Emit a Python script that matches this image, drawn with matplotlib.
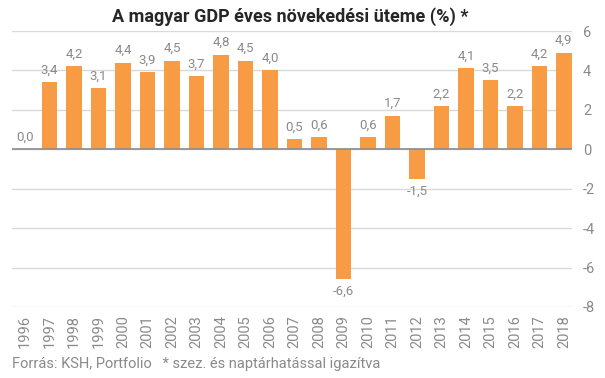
import matplotlib
matplotlib.use("Agg")
import matplotlib.pyplot as plt
import numpy as np

years = [str(y) for y in range(1996, 2019)]
growth = [0.0, 3.4, 4.2, 3.1, 4.4, 3.9, 4.5, 3.7, 4.8, 4.5, 4.0, 0.5, 0.6,
          -6.6, 0.6, 1.7, -1.5, 2.2, 4.1, 3.5, 2.2, 4.2, 4.9]
yticks = [-8, -6, -4, -2, 0, 2, 4, 6]

plt.rcParams['font.family'] = ['Roboto', 'DejaVu Sans']
ORANGE = '#F79C45'
GRAY = '#8A8A8A'

fig = plt.figure(figsize=(6.05, 3.78), dpi=100)
ax = fig.add_axes([12/605, 71/378, 560/605, 276/378])

x = np.arange(len(years))
ax.bar(x, growth, width=0.63, color=ORANGE, zorder=3)
ax.set_xlim(-0.53, len(years) - 1 + 0.33)
ax.set_ylim(-8, 6)
ax.set_yticks(yticks)
ax.set_yticklabels([str(t) for t in yticks])
ax.yaxis.tick_right()
ax.tick_params(axis='y', length=0, pad=8, labelsize=10.5, labelcolor=GRAY)
ax.set_xticks(x)
ax.set_xticklabels(years, rotation=90)
ax.tick_params(axis='x', length=0, pad=6, labelsize=10.5, labelcolor=GRAY)
for s in ax.spines.values():
    s.set_visible(False)
ax.grid(axis='y', color='#D9D9D9', linewidth=1, zorder=0)
ax.axhline(0, color='#8C8C8C', linewidth=1.2, zorder=4)

for xi, v in zip(x, growth):
    lab = f"{v:.1f}".replace('.', ',')
    if v >= 0:
        ax.annotate(lab, (xi, v), xytext=(0, 4), textcoords='offset points',
                    ha='center', va='bottom', fontsize=9.5, color=GRAY)
    else:
        ax.annotate(lab, (xi, v), xytext=(0, -4), textcoords='offset points',
                    ha='center', va='top', fontsize=9.5, color=GRAY)

fig.text(290/605, 1 - 17/378, 'A magyar GDP éves növekedési üteme (%) *',
         ha='center', va='center', fontsize=13, fontweight='bold', color='#262626')
fig.text(12/605, 1 - 364/378, 'Forrás: KSH, Portfolio   * szez. és naptárhatással igazítva',
         ha='left', va='center', fontsize=10.5, color=GRAY)

fig.savefig('out.png', dpi=100)
